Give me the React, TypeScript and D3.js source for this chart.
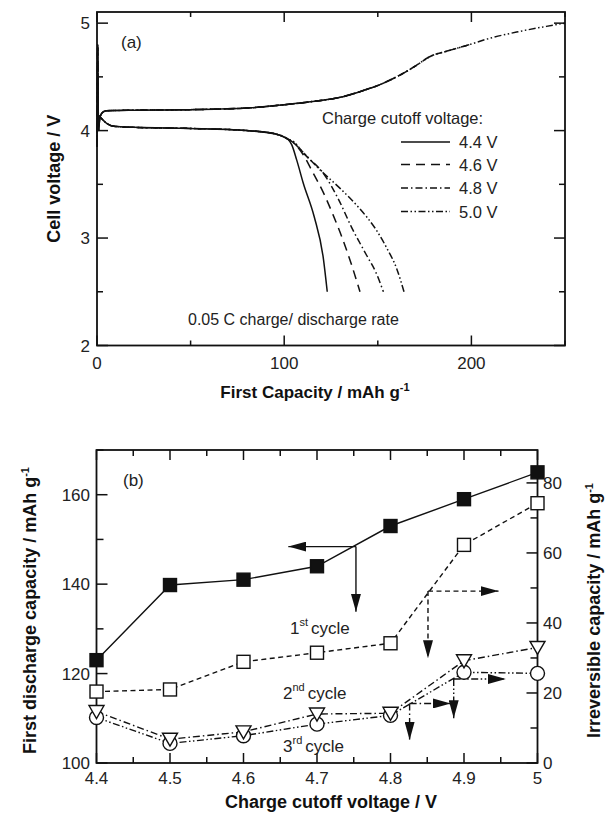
import React from "react";
import * as d3 from "d3";

// ---------- Panel (a) data ----------
const chargeCap = [0, 0.4, 0.8, 1.5, 3, 5, 20, 50, 80, 100, 115, 130, 140, 150, 160, 170, 178, 187, 197, 210, 225, 240, 250];
const chargeV = [3.85, 4.8, 4.0, 4.12, 4.17, 4.185, 4.19, 4.195, 4.21, 4.24, 4.27, 4.31, 4.36, 4.42, 4.5, 4.6, 4.69, 4.74, 4.79, 4.86, 4.92, 4.97, 5.0];
const dischargeCommonCap = [0, 2, 5, 9, 20, 50, 80, 95, 100, 102];
const dischargeCommonV = [4.15, 4.12, 4.07, 4.04, 4.03, 4.02, 4.0, 3.97, 3.94, 3.92];
const cutoffs = [4.4, 4.6, 4.8, 5.0];
const cutoffLabels = ["4.4 V", "4.6 V", "4.8 V", "5.0 V"];
const tailCaps = [
  [104, 106.7, 110.2, 116, 121, 123],
  [104, 110, 115, 121, 126, 131, 136, 140.5],
  [104, 112, 121, 129, 136, 144, 149, 153],
  [104, 110, 120, 130, 140, 149, 155, 160, 164],
];
const tailVs = [
  [3.87, 3.725, 3.51, 3.2, 2.8, 2.5],
  [3.9, 3.78, 3.62, 3.42, 3.22, 3.0, 2.75, 2.5],
  [3.9, 3.76, 3.6, 3.36, 3.1, 2.84, 2.68, 2.5],
  [3.91, 3.8, 3.62, 3.46, 3.28, 3.08, 2.9, 2.72, 2.5],
];
const xTicksA = [0, 100, 200];
const yTicksA = [2, 3, 4, 5];

// ---------- Panel (b) data ----------
const cutoffV = [4.4, 4.5, 4.6, 4.7, 4.8, 4.9, 5.0];
const dischargeCap = [123, 139.8, 141, 144, 153, 159, 165];
const irrev1 = [20.4, 21.0, 28.9, 31.5, 34.2, 62.3, 74.2];
const irrev2 = [14.7, 6.8, 8.9, 14.0, 14.2, 29.2, 33.0];
const irrev3 = [13.0, 5.6, 7.8, 11.1, 13.6, 25.9, 25.6];
const xTicksB = [4.4, 4.5, 4.6, 4.7, 4.8, 4.9, 5.0];
const xTickLabelsB = ["4.4", "4.5", "4.6", "4.7", "4.8", "4.9", "5"];
const yLeftTicksB = [100, 120, 140, 160];
const yRightTicksB = [0, 20, 40, 60, 80];
// arrow annotations: junction (x, y), horizontal end x, vertical end y, axis
const arrowX0 = [4.753, 4.851, 4.826, 4.886];
const arrowY0 = [148.4, 49.1, 17.0, 24.0];
const arrowXEnd = [4.661, 4.947, 4.882, 4.957];
const arrowYEnd = [133.8, 29.9, 6.6, 12.8];
const arrowAxis = ["left", "right", "right", "right"];

const FONT = "'Liberation Sans', Arial, sans-serif";
const DASH = "5,3.5";
const DASHDOT = "7,3,1.5,3";
const DASHDOTDOT = "7,2.5,1.5,2.5,1.5,2.5";
const dashes = [undefined, "9,6", DASHDOT, DASHDOTDOT];

function truncCharge(cut: number) {
  const pts: [number, number][] = [];
  for (let i = 0; i < chargeCap.length; i++) {
    if (chargeV[i] <= cut + 1e-9 || i < 4) {
      pts.push([chargeCap[i], chargeV[i]]);
    } else {
      const v0 = chargeV[i - 1], v1 = chargeV[i];
      const t = (cut - v0) / (v1 - v0);
      pts.push([chargeCap[i - 1] + t * (chargeCap[i] - chargeCap[i - 1]), cut]);
      break;
    }
  }
  return pts;
}

function PanelA() {
  const L = 97, R = 565, T = 12, B = 345.5;
  const x = d3.scaleLinear().domain([0, 250]).range([L, R]);
  const y = d3.scaleLinear().domain([2, 5.1]).range([B, T + 0.4]);
  const line = d3.line<[number, number]>().x(d => x(d[0])).y(d => y(d[1])).curve(d3.curveMonotoneX);
  const minorX = [50, 150, 250];
  const minorY = [2.5, 3.5, 4.5];
  const legY = [142, 164.5, 188, 211.5];
  return (
    <g>
      {cutoffs.map((c, i) => {
        const disc: [number, number][] = dischargeCommonCap.map((cp, j) => [cp, dischargeCommonV[j]] as [number, number])
          .concat(tailCaps[i].map((cp, j) => [cp, tailVs[i][j]] as [number, number]));
        return (
          <g key={c}>
            <path d={line(truncCharge(c)) || ""} fill="none" stroke="#111" strokeWidth={1.5} strokeDasharray={dashes[i]} />
            <path d={line(disc) || ""} fill="none" stroke="#111" strokeWidth={1.5} strokeDasharray={dashes[i]} />
          </g>
        );
      })}
      <rect x={L} y={T} width={R - L} height={B - T} fill="none" stroke="#111" strokeWidth={1.8} />
      {xTicksA.map(t => (
        <g key={t}>
          <line x1={x(t)} x2={x(t)} y1={B} y2={B - 10} stroke="#111" strokeWidth={1.5} />
          <line x1={x(t)} x2={x(t)} y1={T} y2={T + 10} stroke="#111" strokeWidth={1.5} />
          <text x={x(t)} y={369} textAnchor="middle" fontSize={17} fontFamily={FONT} fill="#222">{t}</text>
        </g>
      ))}
      {minorX.map(t => (
        <g key={t}>
          <line x1={x(t)} x2={x(t)} y1={B} y2={B - 5} stroke="#111" strokeWidth={1.5} />
          <line x1={x(t)} x2={x(t)} y1={T} y2={T + 5} stroke="#111" strokeWidth={1.5} />
        </g>
      ))}
      {yTicksA.map(t => (
        <g key={t}>
          <line x1={L} x2={L + 11} y1={y(t)} y2={y(t)} stroke="#111" strokeWidth={1.5} />
          <line x1={R} x2={R - 11} y1={y(t)} y2={y(t)} stroke="#111" strokeWidth={1.5} />
          <text x={90} y={y(t) + 6} textAnchor="end" fontSize={17} fontFamily={FONT} fill="#222">{t}</text>
        </g>
      ))}
      {minorY.map(t => (
        <g key={t}>
          <line x1={L} x2={L + 6} y1={y(t)} y2={y(t)} stroke="#111" strokeWidth={1.5} />
          <line x1={R} x2={R - 6} y1={y(t)} y2={y(t)} stroke="#111" strokeWidth={1.5} />
        </g>
      ))}
      <text x={121} y={48} fontSize={17} fontFamily={FONT} fill="#222">(a)</text>
      <text x={322} y={124} fontSize={16.5} fontFamily={FONT} fill="#222">Charge cutoff voltage:</text>
      {cutoffLabels.map((lab, i) => (
        <g key={lab}>
          <line x1={401} x2={450} y1={legY[i]} y2={legY[i]} stroke="#111" strokeWidth={1.5} strokeDasharray={dashes[i]} />
          <text x={459} y={legY[i] + 6} fontSize={16.5} fontFamily={FONT} fill="#222">{lab}</text>
        </g>
      ))}
      <text x={188} y={325} fontSize={16} fontFamily={FONT} fill="#222">0.05 C charge/ discharge rate</text>
      <text transform={`translate(60,${(T + B) / 2}) rotate(-90)`} textAnchor="middle" fontSize={18} fontWeight="bold" fontFamily={FONT} fill="#111">Cell voltage / V</text>
      <text x={315} y={398} textAnchor="middle" fontSize={17} fontWeight="bold" fontFamily={FONT} fill="#111">
        First Capacity / mAh g<tspan dy={-7} fontSize={11}>-1</tspan>
      </text>
    </g>
  );
}

function Square({ cx, cy, filled }: { cx: number; cy: number; filled: boolean }) {
  const s = 13;
  return <rect x={cx - s / 2} y={cy - s / 2} width={s} height={s} fill={filled ? "#111" : "#fff"} stroke="#111" strokeWidth={1.4} />;
}

function PanelB() {
  const L = 96.5, R = 537.5, T = 450, B = 763;
  const x = d3.scaleLinear().domain([4.4, 5.0]).range([L, R]);
  const yl = d3.scaleLinear().domain([100, 170]).range([B, T]);
  const yr = d3.scaleLinear().domain([0, 89.4]).range([B, T]);
  const lineL = d3.line<number>().x((_, i) => x(cutoffV[i])).y(d => yl(d));
  const lineR = d3.line<number>().x((_, i) => x(cutoffV[i])).y(d => yr(d));
  const minorX = d3.range(6).map(i => 4.45 + i * 0.1);
  const minorL = [110, 130, 150, 170];
  const minorR = [10, 30, 50, 70];
  const arrowStyles = [undefined, DASH, DASHDOT, DASHDOTDOT];
  return (
    <g>
      <defs>
        <marker id="ah" viewBox="0 0 18 10" refX={18} refY={5} markerWidth={18} markerHeight={10} markerUnits="userSpaceOnUse" orient="auto">
          <path d="M0,0 L18,5 L0,10 Z" fill="#111" />
        </marker>
      </defs>
      <rect x={L} y={T} width={R - L} height={B - T} fill="none" stroke="#111" strokeWidth={1.8} />
      {xTicksB.map((t, i) => (
        <g key={t}>
          <line x1={x(t)} x2={x(t)} y1={B} y2={B - 10} stroke="#111" strokeWidth={1.5} />
          <line x1={x(t)} x2={x(t)} y1={T} y2={T + 10} stroke="#111" strokeWidth={1.5} />
          <text x={x(t)} y={784} textAnchor="middle" fontSize={17} fontFamily={FONT} fill="#222">{xTickLabelsB[i]}</text>
        </g>
      ))}
      {minorX.map(t => (
        <g key={t}>
          <line x1={x(t)} x2={x(t)} y1={B} y2={B - 6} stroke="#111" strokeWidth={1.5} />
          <line x1={x(t)} x2={x(t)} y1={T} y2={T + 6} stroke="#111" strokeWidth={1.5} />
        </g>
      ))}
      {yLeftTicksB.map(t => (
        <g key={t}>
          <line x1={L} x2={L + 11} y1={yl(t)} y2={yl(t)} stroke="#111" strokeWidth={1.5} />
          <text x={90} y={yl(t) + 6} textAnchor="end" fontSize={17} fontFamily={FONT} fill="#222">{t}</text>
        </g>
      ))}
      {minorL.map(t => (
        <line key={t} x1={L} x2={L + 7} y1={yl(t)} y2={yl(t)} stroke="#111" strokeWidth={1.5} />
      ))}
      {yRightTicksB.map(t => (
        <g key={t}>
          <line x1={R} x2={R - 11} y1={yr(t)} y2={yr(t)} stroke="#111" strokeWidth={1.5} />
          <text x={543} y={yr(t) + 6} textAnchor="start" fontSize={17} fontFamily={FONT} fill="#222">{t}</text>
        </g>
      ))}
      {minorR.map(t => (
        <line key={t} x1={R} x2={R - 7} y1={yr(t)} y2={yr(t)} stroke="#111" strokeWidth={1.5} />
      ))}

      <path d={lineL(dischargeCap) || ""} fill="none" stroke="#111" strokeWidth={1.4} />
      <path d={lineR(irrev1) || ""} fill="none" stroke="#111" strokeWidth={1.4} strokeDasharray={DASH} />
      <path d={lineR(irrev2) || ""} fill="none" stroke="#111" strokeWidth={1.4} strokeDasharray={DASHDOT} />
      <path d={lineR(irrev3) || ""} fill="none" stroke="#111" strokeWidth={1.4} strokeDasharray={DASHDOTDOT} />

      {arrowX0.map((ax, i) => {
        const ys = arrowAxis[i] === "left" ? yl : yr;
        const px = x(ax), py = ys(arrowY0[i]);
        return (
          <g key={i}>
            <line x1={px} y1={py} x2={x(arrowXEnd[i])} y2={py} stroke="#111" strokeWidth={1.4} strokeDasharray={arrowStyles[i]} markerEnd="url(#ah)" />
            <line x1={px} y1={py} x2={px} y2={ys(arrowYEnd[i])} stroke="#111" strokeWidth={1.4} strokeDasharray={arrowStyles[i]} markerEnd="url(#ah)" />
          </g>
        );
      })}

      {irrev3.map((v, i) => (
        <circle key={"c" + i} cx={x(cutoffV[i])} cy={yr(v)} r={7} fill="#fff" stroke="#111" strokeWidth={1.4} />
      ))}
      {irrev2.map((v, i) => {
        const cx = x(cutoffV[i]), cy = yr(v);
        return <path key={"t" + i} d={`M${cx - 7.5},${cy - 6} L${cx + 7.5},${cy - 6} L${cx},${cy + 7} Z`} fill="#fff" stroke="#111" strokeWidth={1.4} />;
      })}
      {irrev1.map((v, i) => (
        <Square key={"o" + i} cx={x(cutoffV[i])} cy={yr(v)} filled={false} />
      ))}
      {dischargeCap.map((v, i) => (
        <Square key={"f" + i} cx={x(cutoffV[i])} cy={yl(v)} filled={true} />
      ))}

      <text x={123} y={486} fontSize={17} fontFamily={FONT} fill="#222">(b)</text>
      <text x={290} y={634} fontSize={17} fontFamily={FONT} fill="#222">1<tspan dy={-8} fontSize={11}>st</tspan><tspan dy={8} dx={3}>cycle</tspan></text>
      <text x={283} y={699} fontSize={17} fontFamily={FONT} fill="#222">2<tspan dy={-8} fontSize={11}>nd</tspan><tspan dy={8} dx={3}>cycle</tspan></text>
      <text x={283} y={752} fontSize={17} fontFamily={FONT} fill="#222">3<tspan dy={-8} fontSize={11}>rd</tspan><tspan dy={8} dx={3}>cycle</tspan></text>

      <text transform={`translate(36,${(T + B) / 2 + 4}) rotate(-90)`} textAnchor="middle" fontSize={18} fontWeight="bold" fontFamily={FONT} fill="#111">
        First discharge capacity / mAh g<tspan dy={-7} fontSize={11}>-1</tspan>
      </text>
      <text transform={`translate(600,${(T + B) / 2 + 4}) rotate(-90)`} textAnchor="middle" fontSize={18} fontWeight="bold" fontFamily={FONT} fill="#111">
        Irreversible capacity / mAh g<tspan dy={-7} fontSize={11}>-1</tspan>
      </text>
      <text x={331} y={808} textAnchor="middle" fontSize={18} fontWeight="bold" fontFamily={FONT} fill="#111">Charge cutoff voltage / V</text>
    </g>
  );
}

export default function App() {
  return (
    <svg width={607} height={816} style={{ position: "absolute", left: 0, top: 0, background: "#fff" }}>
      <rect width={607} height={816} fill="#fff" />
      <PanelA />
      <PanelB />
    </svg>
  );
}
